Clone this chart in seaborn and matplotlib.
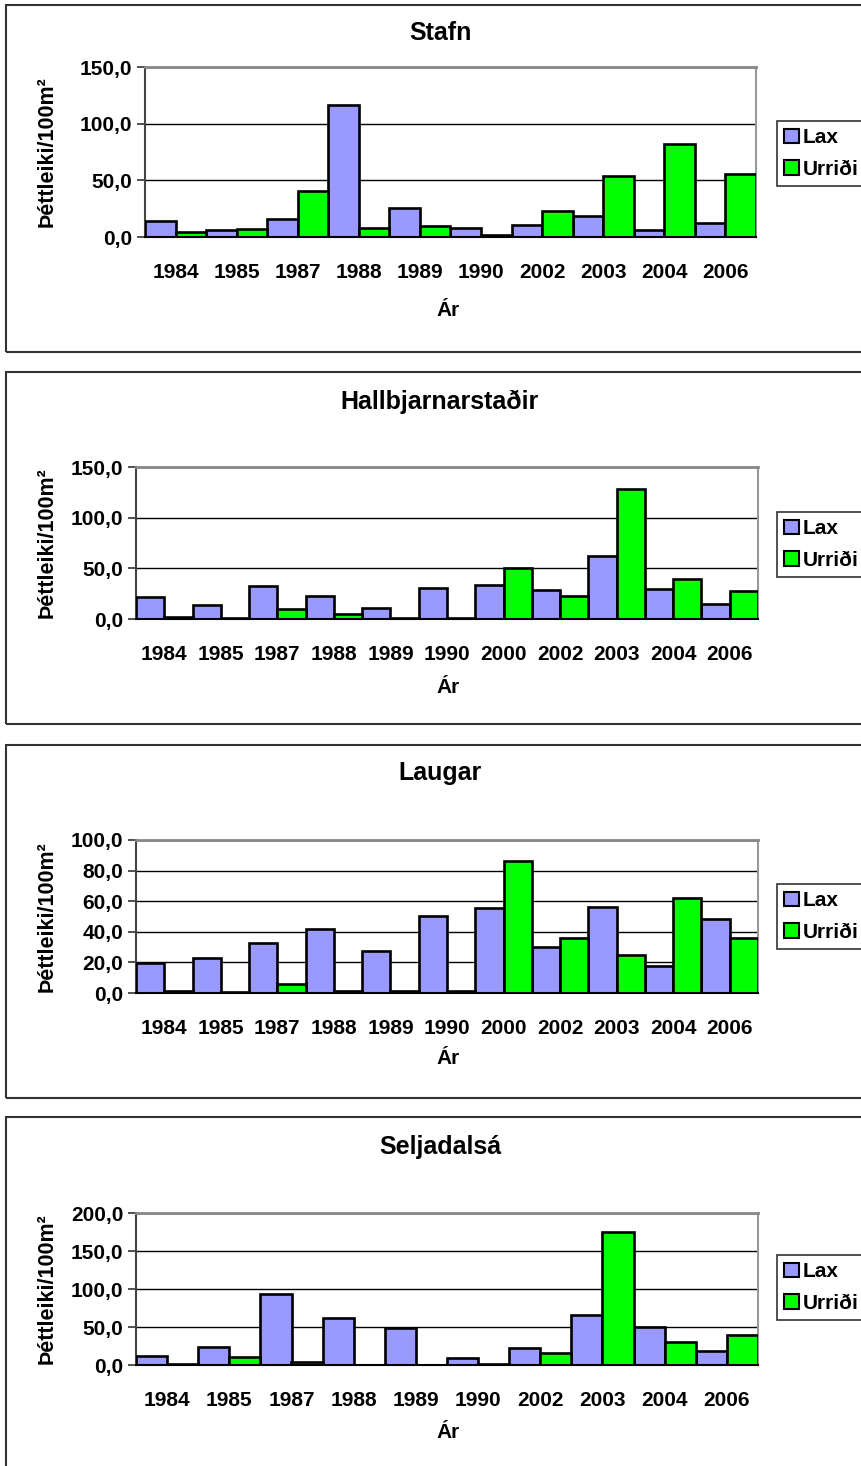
import numpy as np
import pandas as pd
import matplotlib
matplotlib.use("Agg")
import matplotlib.pyplot as plt
from matplotlib.patches import Rectangle, Patch
from matplotlib.ticker import FixedLocator
import seaborn as sns

# ---------------- data ----------------
stafn_years = ["1984", "1985", "1987", "1988", "1989", "1990", "2002", "2003", "2004", "2006"]
stafn_lax = [14.1, 6.2, 16.2, 116.4, 25.9, 8.3, 10.3, 18.3, 6.2, 12.7]
stafn_urr = [4.1, 7.1, 40.7, 8.3, 10.0, 1.5, 23.3, 54.2, 81.9, 56.0]

hall_years = ["1984", "1985", "1987", "1988", "1989", "1990", "2000", "2002", "2003", "2004", "2006"]
hall_lax = [22.1, 13.8, 32.6, 23.1, 10.9, 30.7, 33.6, 29.0, 62.0, 30.0, 14.5]
hall_urr = [2.0, 1.4, 10.2, 4.9, 1.4, 1.4, 50.4, 23.1, 127.9, 39.9, 27.7]

laug_years = ["1984", "1985", "1987", "1988", "1989", "1990", "2000", "2002", "2003", "2004", "2006"]
laug_lax = [19.5, 22.8, 33.0, 41.6, 27.4, 50.1, 55.8, 30.2, 56.2, 17.9, 48.4]
laug_urr = [1.3, 0.4, 6.1, 1.3, 1.0, 1.3, 86.4, 35.7, 24.9, 62.1, 36.1]

selj_years = ["1984", "1985", "1987", "1988", "1989", "1990", "2002", "2003", "2004", "2006"]
selj_lax = [12.3, 23.7, 93.0, 61.8, 48.2, 9.6, 21.9, 66.2, 50.0, 18.9]
selj_urr = [1.2, 10.1, 4.4, 0.0, 0.0, 1.5, 15.8, 174.6, 30.7, 39.0]

titles = ["Stafn", "Hallbjarnarstaðir", "Laugar", "Seljadalsá"]
series_names = ["Lax", "Urriði"]
colors = {"Lax": "#9999FF", "Urriði": "#00FF00"}
yticks_list = [[0, 50, 100, 150], [0, 50, 100, 150], [0, 20, 40, 60, 80, 100], [0, 50, 100, 150, 200]]
ylabel_text = "Þéttleiki/100m²"
xlabel_text = "Ár"

panels = [
    (stafn_years, stafn_lax, stafn_urr),
    (hall_years, hall_lax, hall_urr),
    (laug_years, laug_lax, laug_urr),
    (selj_years, selj_lax, selj_urr),
]

# ---------------- layout (pixels) ----------------
W, H = 862, 1466
axes_px = [(145, 756, 67, 237), (136, 758, 467, 619), (136, 758, 840, 993), (136, 758, 1213, 1365)]
frames_px = [(6, 5, 352), (6, 372, 724), (6, 745, 1098), (6, 1117, 1475)]
title_y = [33, 402, 773, 1147]
xlabel_y = [310, 687, 1058, 1432]
legend_top = [121, 512, 884, 1255]

sns.set_style("white")
plt.rcParams["font.family"] = ["Liberation Sans", "DejaVu Sans"]
plt.rcParams["font.weight"] = "bold"
plt.rcParams["text.color"] = "black"
plt.rcParams["axes.labelcolor"] = "black"
plt.rcParams["xtick.color"] = "black"
plt.rcParams["ytick.color"] = "black"

TICK_FS = 15
fig = plt.figure(figsize=(W / 100, H / 100), dpi=100)


def fx(x):
    return x / W


def fy(y):
    return 1 - y / H


for i, (years, lax, urr) in enumerate(panels):
    l, r, t, b = axes_px[i]
    fl, ft, fb = frames_px[i]
    fig.patches.append(Rectangle((fx(fl), fy(fb)), fx(W + 20 - fl), fy(ft) - fy(fb),
                                 transform=fig.transFigure, fill=False,
                                 edgecolor="#333333", linewidth=1.5, zorder=0))

    ax = fig.add_axes([fx(l), fy(b), fx(r - l), fy(t) - fy(b)])
    df = pd.DataFrame({
        "Ár": years * 2,
        "val": list(lax) + list(urr),
        "sp": [series_names[0]] * len(years) + [series_names[1]] * len(years),
    })
    sns.barplot(data=df, x="Ár", y="val", hue="sp", order=years, hue_order=series_names,
                palette=colors, saturation=1, width=1.0, edgecolor="black", linewidth=1.9,
                errorbar=None, legend=False, ax=ax, zorder=3)

    n = len(years)
    ax.set_xlim(-0.5, n - 0.5)
    yt = yticks_list[i]
    ax.set_ylim(0, yt[-1])
    ax.set_yticks(yt)
    ax.set_yticklabels([f"{v:.1f}".replace(".", ",") for v in yt], fontsize=TICK_FS, fontweight="bold")
    ax.set_xticks(range(n))
    ax.set_xticklabels(years, fontsize=TICK_FS, fontweight="bold")
    ax.xaxis.set_minor_locator(FixedLocator(np.arange(-0.5, n, 1.0)))
    ax.tick_params(axis="x", which="major", length=0, pad=19, labelcolor="black")
    ax.tick_params(axis="x", which="minor", length=6, width=1.2, color="#666666", direction="out")
    ax.tick_params(axis="y", which="major", length=6, width=1.2, color="#333333",
                   direction="out", pad=3, left=True, labelcolor="black")

    ax.grid(axis="y", color="black", linewidth=1.0)
    ax.grid(axis="x", visible=False)
    ax.set_axisbelow(True)
    for side, col, lw in [("top", "#888888", 2.0), ("right", "#999999", 1.5),
                          ("left", "#444444", 1.5), ("bottom", "black", 1.5)]:
        ax.spines[side].set_visible(True)
        ax.spines[side].set_color(col)
        ax.spines[side].set_linewidth(lw)
    ax.spines["bottom"].set_zorder(5)

    ax.set_ylabel(ylabel_text, fontsize=15.5, fontweight="bold", color="black")
    ax.yaxis.set_label_coords(fx(47), fy((t + b) / 2), transform=fig.transFigure)
    ax.yaxis.label.set_verticalalignment("center")
    ax.set_xlabel(xlabel_text, fontsize=15, fontweight="bold", color="black")
    ax.xaxis.set_label_coords(fx(448), fy(xlabel_y[i]), transform=fig.transFigure)
    ax.xaxis.label.set_verticalalignment("center")

    fig.text(fx(440), fy(title_y[i]), titles[i], ha="center", va="center",
             fontsize=18, fontweight="bold", color="black")

    handles = [Patch(facecolor=colors[s], edgecolor="black", linewidth=1.5) for s in series_names]
    leg = fig.legend(handles, series_names, loc="upper left",
                     bbox_to_anchor=(fx(777), fy(legend_top[i])),
                     bbox_transform=fig.transFigure, frameon=True, fancybox=False,
                     edgecolor="#333333", framealpha=1, borderpad=0.35,
                     handlelength=0.7, handleheight=0.7, handletextpad=0.2,
                     labelspacing=0.6, borderaxespad=0,
                     prop={"size": 15, "weight": "bold"})
    leg.get_frame().set_linewidth(1.2)
    for txt in leg.get_texts():
        txt.set_color("black")

fig.savefig("out.png", dpi=100)
